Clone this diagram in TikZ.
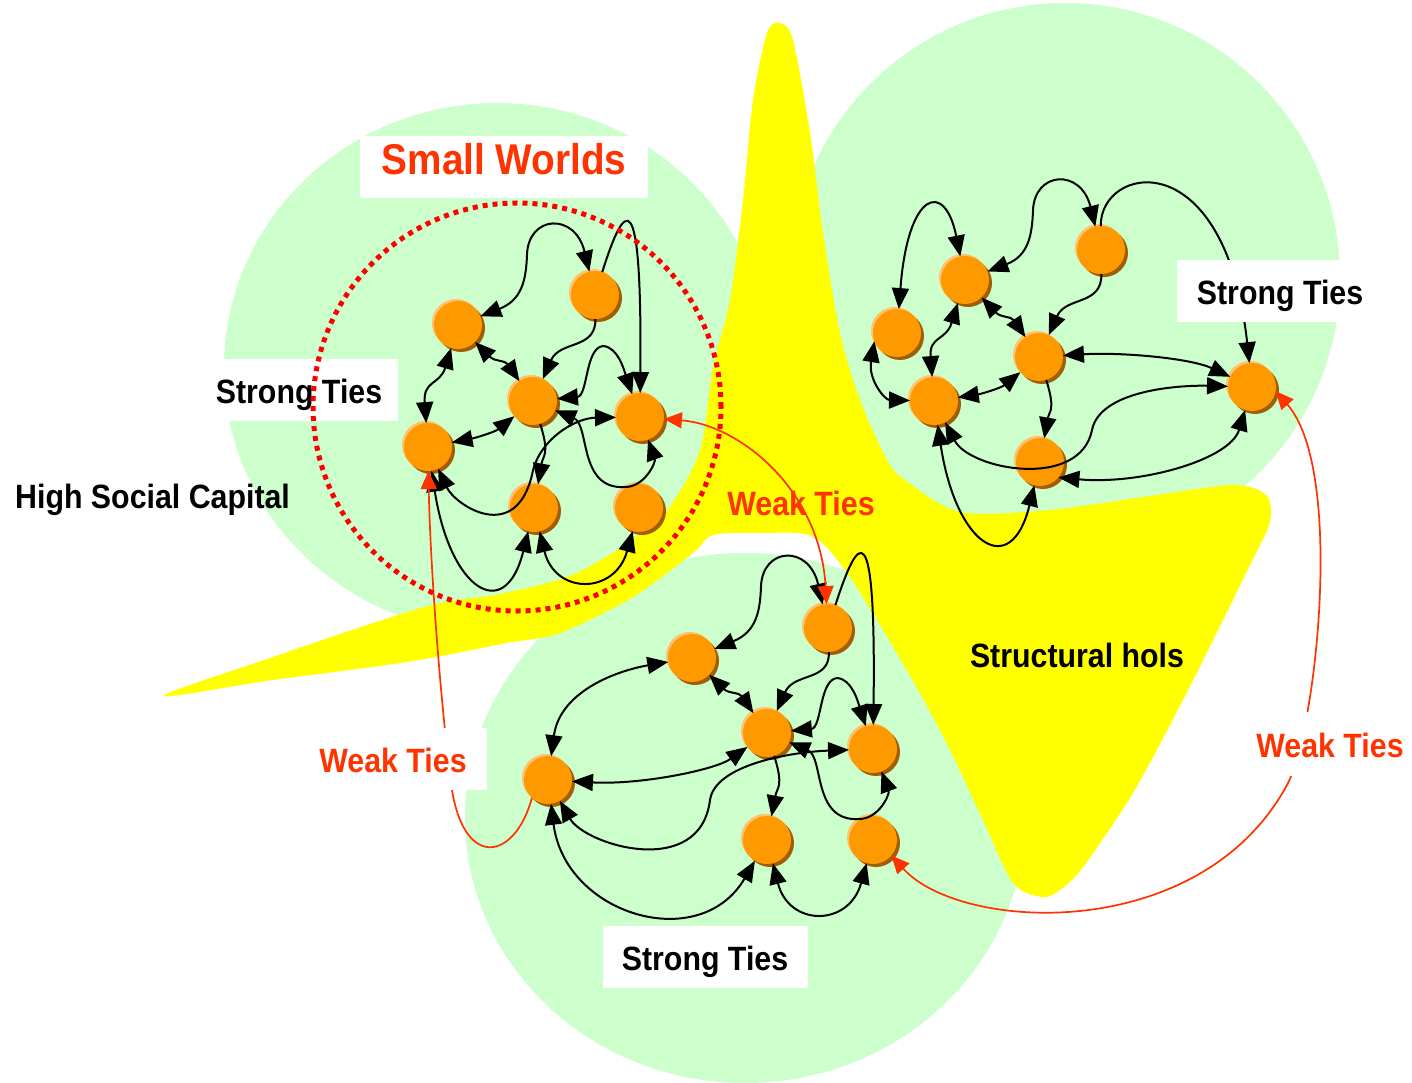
\documentclass[tikz,border=0pt]{standalone}
\usepackage{fontspec}
\setmainfont{Liberation Sans}[FakeStretch=0.9]
\usetikzlibrary{arrows.meta}
\definecolor{bggreen}{HTML}{CCFFCC}
\definecolor{holeyellow}{HTML}{FFFF00}
\definecolor{nodeorange}{HTML}{FF9900}
\definecolor{nodeshade}{HTML}{A05E08}
\definecolor{nodelight}{HTML}{FFC070}
\definecolor{weakred}{HTML}{FF3300}
\definecolor{dotred}{HTML}{FF0000}
\tikzset{
  actor/.style={circle, fill=nodeorange, minimum size=48pt, inner sep=0pt, outer sep=0pt,
    preaction={fill=nodeshade, transform canvas={xshift=3pt,yshift=-3pt}},
    preaction={fill=nodelight, transform canvas={xshift=-2pt,yshift=2pt}}},
  tie/.style={line width=2pt, black},
  both/.style={{Triangle[length=21pt,width=17pt]}-{Triangle[length=21pt,width=17pt]}},
  one/.style={-{Triangle[length=21pt,width=17pt]}},
  weak/.style={line width=1.7pt, weakred},
  wboth/.style={{Triangle[length=18pt,width=16pt]}-{Triangle[length=18pt,width=16pt]}},
  wone/.style={-{Triangle[length=18pt,width=16pt]}},
  lbl/.style={font=\fontsize{33.7}{38}\selectfont\bfseries, inner sep=0pt, anchor=base},
  lblbox/.style={lbl, fill=white, text height=44pt, text depth=18pt},
  titlebox/.style={font=\fontsize{43}{48}\selectfont\bfseries, inner sep=0pt, anchor=base,
    fill=white, text=weakred, text height=39pt, text depth=23pt, minimum width=288pt}
}
% ties shared by all three clusters
\newcommand{\coreties}[1]{%
  \draw[tie,both] (a#1) .. controls (522,300) and (526,280) .. (527,255)
     .. controls (528,215) and (575,212) .. (b#1);
  \draw[tie,one] (b#1) .. controls (596,350) and (560,340) .. (c#1);
  \draw[tie,both] (a#1) .. controls (495,362) and (505,360) .. (c#1);
  \draw[tie,one] (c#1) .. controls (550,455) and (543,455) .. (f#1);
}
% ties shared by clusters 1 and 2
\newcommand{\aeties}[1]{%
  \draw[tie,both] (a#1) .. controls (440,385) and (423,380) .. (e#1);
  \draw[tie,both] (c#1) .. controls (495,432) and (475,438) .. (e#1);
  \draw[tie,both] (e#1) .. controls (450,590) and (505,625) .. (f#1);
}
% ties shared by clusters 1 and 3
\newcommand{\dgties}[1]{%
  \draw[tie,one] (b#1) .. controls (625,200) and (642,180) .. (d#1);
  \draw[tie,both] (c#1) .. controls (588,396) and (585,348) .. (603,346)
     .. controls (618,347) and (624,370) .. (d#1);
  \draw[tie,both] (f#1) .. controls (555,595) and (615,595) .. (g#1);
  \draw[tie,both] (c#1) .. controls (590,425) and (578,490) .. (625,487)
     .. controls (645,487) and (656,462) .. (d#1);
}
\begin{document}
\begin{tikzpicture}[x=1pt,y=-1pt]
\useasboundingbox (0,0) rectangle (1412,1083);
\fill[white] (0,0) rectangle (1412,1083);
% green areas
\fill[bggreen] (497,368) ellipse[x radius=273pt, y radius=265pt];
\fill[bggreen] (1065,278) circle[radius=275pt];
\fill[bggreen] (745,818) ellipse[x radius=280pt, y radius=265pt];
% structural hole
\fill[holeyellow] plot[smooth cycle, tension=0.5] coordinates {
  (780,23) (793,40) (810,133) (823,233) (840,333) (860,400) (887,460) (905,480)
  (960,512) (1050,510) (1150,496) (1233,485) (1266,495) (1270,522)
  (1250,565) (1223,620) (1183,700) (1133,793) (1083,867) (1060,890) (1042,897)
  (1013,883) (983,820) (950,750) (917,688) (880,625) (845,570) (812,536)
  (760,533) (713,535) (693,553) (633,597) (560,633) (507,643) (407,662) (273,680)
  (163,696)
  (273,657) (373,623) (440,603) (500,594) (567,577) (617,550) (667,510)
  (700,450) (713,367) (730,300) (743,200) (753,100) (767,33)};
% cluster 1
\node[actor] (a1) at (458,325) {};
\node[actor] (b1) at (595,295) {};
\node[actor] (c1) at (533,401) {};
\node[actor] (d1) at (640,417) {};
\node[actor] (e1) at (428,447) {};
\node[actor] (f1) at (534,508) {};
\node[actor] (g1) at (639,508) {};
% cluster 2
\node[actor] (h2) at (897,333) {};
\node[actor] (a2) at (965,280) {};
\node[actor] (b2) at (1101,250) {};
\node[actor] (c2) at (1039,357) {};
\node[actor] (e2) at (934,401) {};
\node[actor] (f2) at (1040,462) {};
\node[actor] (d2) at (1252,387) {};
% cluster 3
\node[actor] (a3) at (692,658) {};
\node[actor] (b3) at (828,628) {};
\node[actor] (c3) at (767,733) {};
\node[actor] (d3) at (873,749) {};
\node[actor] (e3) at (548,780) {};
\node[actor] (f3) at (767,840) {};
\node[actor] (g3) at (873,840) {};
% strong ties, cluster 1
\coreties{1}
\aeties{1}
\dgties{1}
\draw[tie,both] (e1) .. controls (455,505) and (515,545) .. (532,475)
   .. controls (538,440) and (575,418) .. (d1);
% strong ties, cluster 2
\begin{scope}[shift={(506,-44)}]
\coreties{2}
\aeties{2}
\end{scope}
\draw[tie,both] (h2) .. controls (908,190) and (945,180) .. (a2);
\draw[tie,both] (h2.200) .. controls (868,380) and (885,400) .. (e2);
\draw[tie,one] (b2) .. controls (1100,165) and (1225,140) .. (d2);
\draw[tie,both] (c2) .. controls (1120,352) and (1190,358) .. (d2);
\draw[tie,both] (e2) .. controls (970,470) and (1080,490) .. (1092,430)
   .. controls (1100,390) and (1180,385) .. (d2);
\draw[tie,both] (f2.-40) .. controls (1140,485) and (1230,460) .. (d2);
% strong ties, cluster 3
\begin{scope}[shift={(234,332)}]
\coreties{3}
\dgties{3}
\end{scope}
\draw[tie,both] (a3) .. controls (620,670) and (560,690) .. (e3);
\draw[tie,both] (c3) .. controls (715,770) and (640,785) .. (e3);
\draw[tie,both] (e3) .. controls (585,845) and (700,880) .. (710,800)
   .. controls (715,765) and (790,752) .. (d3);
\draw[tie,both] (e3) .. controls (565,915) and (700,955) .. (f3);
% free labels
\node[lbl, anchor=base west] (hsc) at (15,508) {High Social Capital};
\node[lbl] (sh) at (1077,667) {Structural hols};
\node[lbl, text=weakred] (wtm) at (801,515) {Weak Ties};
% weak ties
\draw[weak,wboth] (d1) .. controls (740,425) and (820,490) .. (b3);
\draw[weak,wone] (e3.228) .. controls (515,860) and (465,870) .. (452,790)
   .. controls (440,700) and (430,560) .. (e1);
\draw[weak,wboth] (g3.-40) .. controls (960,932) and (1200,945) .. (1287,785)
   .. controls (1316,732) and (1345,470) .. (d2.-10);
% boxed labels
\node[lblbox, minimum width=198pt] (st1) at (299,403) {Strong Ties};
\node[lblbox, minimum width=206pt] (st2) at (1280,304) {Strong Ties};
\node[lblbox, minimum width=205pt] (st3) at (705,970) {Strong Ties};
\node[lblbox, text=weakred, minimum width=187pt] (wtl) at (393,772) {Weak Ties};
\node[lblbox, text=weakred, minimum width=172pt, text height=45pt, text depth=19pt] (wtr) at (1330,757) {Weak Ties};
% small world boundary
\draw[dotred, line width=5pt, dash pattern=on 5pt off 5pt] (517,407) circle[radius=204pt];
\node[titlebox] (sw) at (504,175) {Small Worlds};
\end{tikzpicture}
\end{document}
